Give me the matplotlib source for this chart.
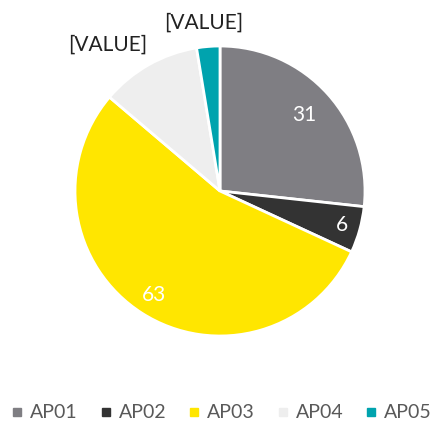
import matplotlib
matplotlib.use("Agg")
import matplotlib.pyplot as plt
from matplotlib.lines import Line2D
import numpy as np

categories = ["AP01", "AP02", "AP03", "AP04", "AP05"]
values = [31, 6, 63, 13, 3]
labels = ["31", "6", "63", "[VALUE]", "[VALUE]"]
colors = ["#7F7E83", "#333333", "#FFE600", "#EEEEEE", "#00A3AE"]
label_colors = ["white", "white", "white", "#222222", "#222222"]
label_dist = [0.78, 0.87, 0.85, 1.27, 1.165]
label_ang_off = [0, 0, 0, 8, 1]

plt.rcParams['font.family'] = ['Lato', 'DejaVu Sans']

fig = plt.figure(figsize=(4.38, 4.23), dpi=100)
ax = fig.add_axes([(220 - 145) / 438, (232 - 145) / 423, 290 / 438, 290 / 423])
wedges, _ = ax.pie(values, colors=colors, startangle=90, counterclock=False,
                   wedgeprops=dict(edgecolor="white", linewidth=2.0))
ax.set_xlim(-1, 1)
ax.set_ylim(-1, 1)
ax.set_aspect("equal")
ax.axis("off")

for w, lab, c, d, off in zip(wedges, labels, label_colors, label_dist, label_ang_off):
    ang = np.deg2rad((w.theta1 + w.theta2) / 2 + off)
    ax.text(d * np.cos(ang), d * np.sin(ang), lab, ha="center", va="center",
            color=c, fontsize=15, clip_on=False)

handles = [Line2D([0], [0], marker="s", linestyle="none", markersize=6,
                  markerfacecolor=col, markeredgecolor=col) for col in colors]
fig.legend(handles, categories, loc="center", bbox_to_anchor=(0.505, 0.024), ncol=5,
           frameon=False, fontsize=14, labelcolor="#595959", handletextpad=0.3,
           columnspacing=1.1, handlelength=0.7, borderaxespad=0, borderpad=0)

fig.savefig("out.png", dpi=100)
